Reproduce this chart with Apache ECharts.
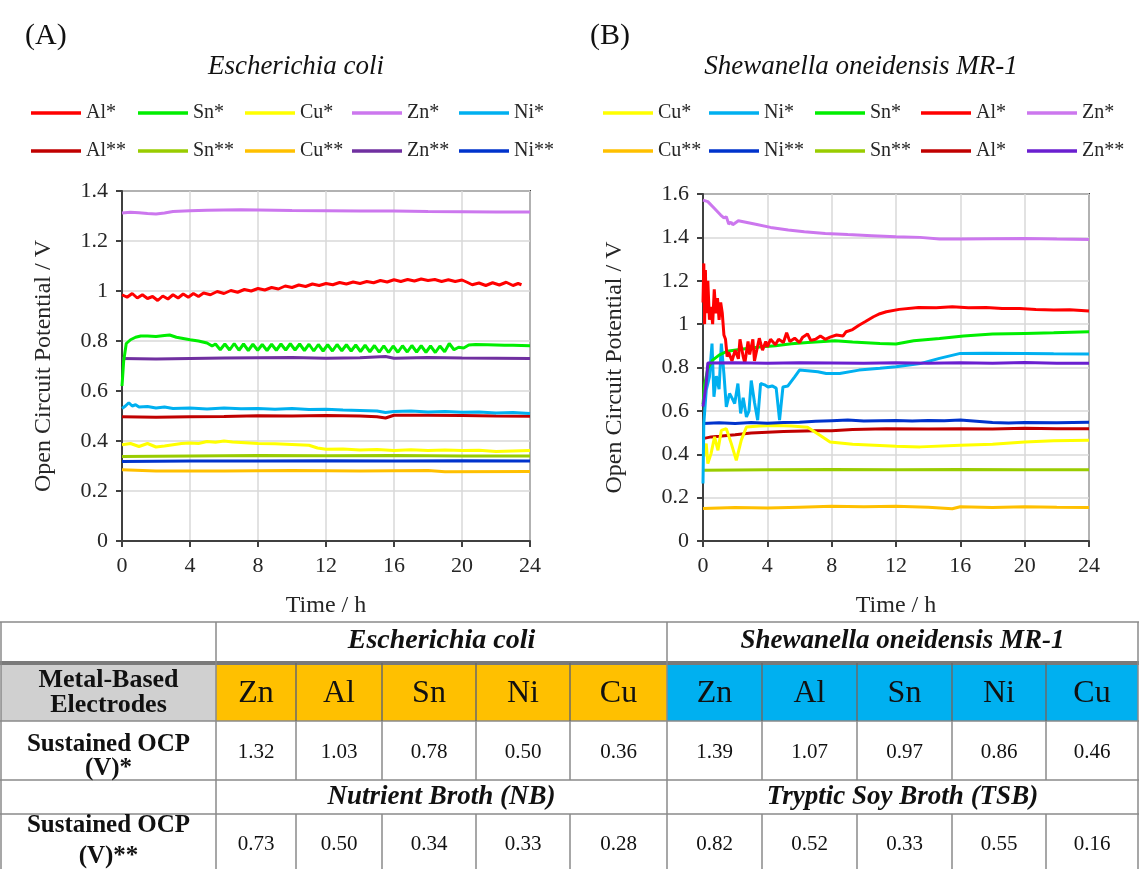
<!DOCTYPE html>
<html>
<head>
<meta charset="utf-8">
<script src="https://cdn.jsdelivr.net/npm/echarts@6/dist/echarts.min.js"></script>
</head>
<body style="margin:0;background:#fff">
<div id="chartmain" style="width:1139px;height:869px"></div>
<script type="text/javascript">
// ---- (A) Escherichia coli : [time h, OCP V] ----
var aAl1 = [[0,0.985],[0.3,0.975],[0.6,0.99],[0.9,0.972],[1.2,0.985],[1.5,0.97],[1.8,0.978],[2.1,0.962],[2.4,0.98],[2.7,0.968],[3,0.985],[3.3,0.972],[3.6,0.988],[3.9,0.975],[4.2,0.99],[4.5,0.978],[4.8,0.992],[5.2,0.985],[5.6,0.998],[6,0.99],[6.4,1.002],[6.8,0.995],[7.2,1.006],[7.6,1.0],[8,1.01],[8.4,1.004],[8.8,1.014],[9.2,1.008],[9.6,1.02],[10,1.014],[10.4,1.024],[10.8,1.018],[11.2,1.028],[11.6,1.022],[12,1.03],[12.4,1.025],[12.8,1.034],[13.2,1.028],[13.6,1.036],[14,1.03],[14.4,1.038],[14.8,1.033],[15.2,1.042],[15.6,1.036],[16,1.045],[16.4,1.038],[16.8,1.046],[17.2,1.04],[17.6,1.048],[18,1.042],[18.4,1.046],[18.8,1.038],[19.2,1.045],[19.6,1.038],[20,1.044],[20.3,1.035],[20.6,1.025],[21,1.032],[21.4,1.022],[21.8,1.033],[22.2,1.024],[22.6,1.035],[23,1.022],[23.3,1.03],[23.5,1.025]];
var aSn1 = [[0,0.62],[0.1,0.72],[0.25,0.79],[0.5,0.805],[0.8,0.815],[1.1,0.82],[1.5,0.82],[2,0.818],[2.5,0.822],[2.8,0.824],[3.2,0.815],[3.6,0.81],[4,0.805],[4.5,0.8],[5,0.792],[5.3,0.78],[5.5,0.788],[5.78,0.765],[6.05,0.788],[6.33,0.764],[6.6,0.79],[6.88,0.763],[7.15,0.788],[7.43,0.762],[7.7,0.787],[7.98,0.763],[8.25,0.786],[8.53,0.762],[8.8,0.787],[9.08,0.763],[9.35,0.788],[9.63,0.764],[9.9,0.789],[10.18,0.764],[10.45,0.788],[10.73,0.762],[11,0.787],[11.28,0.76],[11.55,0.786],[11.83,0.76],[12.1,0.785],[12.38,0.76],[12.65,0.786],[12.93,0.761],[13.2,0.785],[13.48,0.76],[13.75,0.784],[14.03,0.758],[14.3,0.783],[14.58,0.757],[14.85,0.782],[15.13,0.755],[15.4,0.781],[15.68,0.754],[15.95,0.78],[16.23,0.755],[16.5,0.781],[16.78,0.756],[17.05,0.782],[17.33,0.756],[17.6,0.781],[17.88,0.755],[18.15,0.78],[18.43,0.754],[18.7,0.78],[18.98,0.757],[19.25,0.79],[19.53,0.765],[19.8,0.775],[20.1,0.772],[20.4,0.784],[20.8,0.786],[21.5,0.785],[22,0.784],[22.5,0.783],[23,0.783],[23.5,0.782],[24,0.781]];
var aCu1 = [[0,0.385],[0.5,0.39],[1,0.378],[1.5,0.39],[2,0.376],[2.5,0.38],[3,0.385],[3.5,0.39],[4,0.392],[4.5,0.39],[5,0.398],[5.5,0.395],[6,0.4],[6.5,0.396],[7,0.394],[8,0.39],[9,0.389],[10,0.386],[11,0.383],[11.5,0.372],[12,0.367],[13,0.368],[14,0.364],[15,0.366],[16,0.362],[17,0.365],[18,0.362],[19,0.364],[20,0.362],[21,0.363],[22,0.358],[23,0.36],[24,0.362]];
var aZn1 = [[0,1.312],[0.5,1.315],[1,1.313],[1.5,1.31],[2,1.308],[2.5,1.312],[3,1.318],[4,1.321],[5,1.323],[6,1.324],[7,1.325],[8,1.324],[10,1.322],[12,1.321],[14,1.32],[16,1.32],[18,1.318],[20,1.317],[22,1.316],[24,1.316]];
var aNi1 = [[0,0.53],[0.2,0.54],[0.4,0.553],[0.6,0.54],[0.8,0.545],[1,0.536],[1.5,0.538],[2,0.532],[2.5,0.536],[3,0.53],[4,0.532],[5,0.528],[6,0.532],[7,0.529],[8,0.53],[9,0.527],[10,0.53],[11,0.526],[12,0.527],[13,0.524],[14,0.522],[15,0.52],[15.5,0.514],[16,0.518],[17,0.52],[18,0.516],[19,0.518],[20,0.515],[21,0.516],[22,0.512],[23,0.514],[24,0.51]];
var aAl2 = [[0,0.497],[2,0.495],[4,0.497],[6,0.498],[8,0.501],[10,0.5],[12,0.502],[14,0.5],[15,0.497],[15.5,0.492],[16,0.503],[18,0.503],[20,0.502],[22,0.5],[24,0.499]];
var aSn2 = [[0,0.338],[4,0.34],[8,0.342],[12,0.341],[16,0.342],[20,0.34],[24,0.34]];
var aCu2 = [[0,0.285],[2,0.28],[6,0.28],[10,0.282],[14,0.28],[18,0.282],[19,0.277],[24,0.278]];
var aZn2 = [[0,0.73],[2,0.728],[4,0.73],[6,0.732],[8,0.733],[10,0.734],[12,0.731],[14,0.733],[15.5,0.738],[16,0.731],[18,0.734],[20,0.732],[22,0.731],[24,0.73]];
var aNi2 = [[0,0.318],[4,0.32],[8,0.32],[12,0.321],[16,0.32],[20,0.321],[24,0.32]];

// ---- (B) Shewanella oneidensis MR-1 ----
var bCu1 = [[0.05,0.39],[0.2,0.449],[0.3,0.357],[0.5,0.403],[0.72,0.48],[0.93,0.418],[1.14,0.51],[1.45,0.518],[1.76,0.449],[2.07,0.372],[2.38,0.465],[2.7,0.526],[3.5,0.53],[4.5,0.532],[5.5,0.53],[6.5,0.525],[7.27,0.488],[7.9,0.457],[9.3,0.446],[12,0.437],[13.5,0.434],[16,0.442],[18,0.446],[20,0.457],[21.8,0.462],[24,0.465]];
var bNi1 = [[0,0.265],[0.05,0.54],[0.2,0.695],[0.4,0.757],[0.56,0.91],[0.68,0.665],[0.83,0.76],[1,0.7],[1.14,0.91],[1.3,0.772],[1.45,0.618],[1.65,0.68],[1.8,0.66],[1.97,0.634],[2.17,0.726],[2.34,0.588],[2.5,0.66],[2.7,0.572],[2.86,0.6],[3,0.74],[3.2,0.64],[3.4,0.557],[3.58,0.726],[3.83,0.72],[4.04,0.71],[4.3,0.715],[4.55,0.705],[4.76,0.557],[4.97,0.71],[5.28,0.715],[5.7,0.757],[6,0.788],[6.5,0.785],[7.14,0.78],[7.66,0.772],[8.5,0.772],[9.7,0.788],[11,0.796],[12,0.803],[13.5,0.818],[14.7,0.842],[16,0.865],[17.6,0.866],[20,0.865],[21.8,0.863],[24,0.862]];
var bSn1 = [[0,0.63],[0.1,0.72],[0.3,0.795],[0.6,0.834],[1,0.857],[1.5,0.875],[2.5,0.885],[3.5,0.895],[4.5,0.9],[5.5,0.91],[6.5,0.915],[7.5,0.92],[8.2,0.923],[9.3,0.918],[11,0.911],[12,0.908],[13.1,0.923],[14.7,0.934],[16.2,0.945],[18,0.954],[20,0.957],[21.8,0.96],[24,0.965]];
var bAl1 = [[0,1.1],[0.05,1.28],[0.1,1.0],[0.15,1.25],[0.2,1.05],[0.3,1.2],[0.4,1.02],[0.5,1.08],[0.6,1.0],[0.7,1.16],[0.8,1.05],[0.9,1.12],[1,1.02],[1.1,1.1],[1.2,1.05],[1.3,0.95],[1.4,0.93],[1.5,0.85],[1.6,0.87],[1.8,0.83],[2,0.88],[2.2,0.84],[2.3,0.93],[2.5,0.85],[2.6,0.82],[2.8,0.92],[2.9,0.86],[3.1,0.93],[3.2,0.83],[3.4,0.9],[3.5,0.935],[3.7,0.88],[3.9,0.92],[4,0.895],[4.2,0.93],[4.5,0.905],[4.7,0.93],[5,0.915],[5.2,0.96],[5.4,0.92],[5.7,0.935],[6,0.915],[6.2,0.94],[6.5,0.955],[6.7,0.925],[7,0.93],[7.3,0.945],[7.6,0.93],[7.9,0.94],[8.3,0.95],[8.7,0.945],[8.9,0.965],[9.3,0.975],[9.7,0.995],[10.1,1.012],[10.6,1.034],[11,1.048],[11.4,1.057],[12.2,1.068],[13.4,1.077],[14.5,1.076],[15.5,1.08],[16.5,1.076],[17.6,1.077],[18.6,1.072],[19.7,1.072],[20.7,1.068],[21.8,1.065],[22.8,1.066],[24,1.06]];
var bZn1 = [[0,1.572],[0.3,1.565],[0.7,1.534],[1.1,1.503],[1.3,1.49],[1.45,1.495],[1.6,1.462],[1.75,1.47],[1.85,1.458],[2.2,1.477],[3.2,1.462],[4.2,1.446],[5.3,1.434],[6.3,1.426],[7.6,1.418],[9,1.413],[10.5,1.408],[12,1.403],[13.5,1.4],[14.7,1.392],[16,1.392],[18,1.394],[20,1.395],[22,1.392],[24,1.39]];
var bCu2 = [[0,0.15],[2,0.155],[4,0.152],[6,0.156],[8,0.16],[10,0.158],[12,0.16],[14,0.156],[15.5,0.149],[16,0.158],[18,0.155],[20,0.158],[22,0.156],[24,0.155]];
var bNi2 = [[0,0.542],[1,0.545],[2,0.542],[3,0.546],[4,0.543],[5,0.546],[6,0.548],[7,0.552],[8,0.555],[9,0.558],[10,0.553],[11,0.555],[12,0.556],[13,0.553],[14,0.556],[15,0.555],[16,0.558],[17,0.552],[18,0.546],[19,0.544],[20,0.546],[22,0.545],[24,0.548]];
var bSn2 = [[0,0.326],[4,0.328],[8,0.33],[12,0.328],[16,0.33],[20,0.328],[24,0.328]];
var bAl2 = [[0,0.472],[0.5,0.48],[1,0.483],[2,0.49],[3,0.498],[4,0.502],[5,0.505],[7,0.508],[8,0.508],[9.3,0.514],[11.4,0.518],[14,0.517],[16,0.518],[18,0.517],[20,0.52],[22,0.518],[24,0.518]];
var bZn2 = [[0,0.62],[0.2,0.726],[0.3,0.821],[2,0.822],[4,0.82],[6,0.822],[8,0.821],[10,0.82],[12,0.822],[14,0.82],[16,0.822],[18,0.82],[20,0.823],[22,0.82],[24,0.82]];

// ---- table ----
var metals = ['Zn', 'Al', 'Sn', 'Ni', 'Cu'];
var ecoliOcp1 = [1.32, 1.03, 0.78, 0.50, 0.36];
var ecoliOcp2 = [0.73, 0.50, 0.34, 0.33, 0.28];
var shewOcp1 = [1.39, 1.07, 0.97, 0.86, 0.46];
var shewOcp2 = [0.82, 0.52, 0.33, 0.55, 0.16];

var FONT = 'Liberation Serif';
var TXT = '#262626';

// series key -> legend text (the second "Al*" in panel B is as printed)
var labelOf = {
    'A Al*': 'Al*', 'A Sn*': 'Sn*', 'A Cu*': 'Cu*', 'A Zn*': 'Zn*', 'A Ni*': 'Ni*',
    'A Al**': 'Al**', 'A Sn**': 'Sn**', 'A Cu**': 'Cu**', 'A Zn**': 'Zn**', 'A Ni**': 'Ni**',
    'B Cu*': 'Cu*', 'B Ni*': 'Ni*', 'B Sn*': 'Sn*', 'B Al*': 'Al*', 'B Zn*': 'Zn*',
    'B Cu**': 'Cu**', 'B Ni**': 'Ni**', 'B Sn**': 'Sn**', 'B Al**': 'Al*', 'B Zn**': 'Zn**'
};
var legendRowsA = [['A Al*', 'A Sn*', 'A Cu*', 'A Zn*', 'A Ni*'], ['A Al**', 'A Sn**', 'A Cu**', 'A Zn**', 'A Ni**']];
var legendRowsB = [['B Cu*', 'B Ni*', 'B Sn*', 'B Al*', 'B Zn*'], ['B Cu**', 'B Ni**', 'B Sn**', 'B Al**', 'B Zn**']];

function line(name, data, color, idx) {
    return {
        name: name, type: 'line', data: data, xAxisIndex: idx, yAxisIndex: idx,
        symbol: 'none', color: color,
        lineStyle: { width: 3, color: color },
        animation: false
    };
}

function xAx(idx) {
    return {
        gridIndex: idx, type: 'value', min: 0, max: 24, interval: 4,
        name: 'Time / h', nameLocation: 'middle', nameGap: 53,
        nameTextStyle: { fontFamily: FONT, fontSize: 24, color: TXT },
        axisLine: { lineStyle: { color: '#404040', width: 2 } },
        axisTick: { show: true, length: 6, lineStyle: { color: '#404040', width: 2 } },
        axisLabel: { fontFamily: FONT, fontSize: 22, color: TXT, margin: 14 },
        splitLine: { show: true, lineStyle: { color: '#d9d9d9', width: 1.5 } }
    };
}

function yAx(idx, max, gap) {
    return {
        gridIndex: idx, type: 'value', min: 0, max: max, interval: 0.2,
        name: 'Open Circuit Potential / V', nameLocation: 'middle', nameGap: gap,
        nameTextStyle: { fontFamily: FONT, fontSize: 24, color: TXT },
        axisLine: { show: true, lineStyle: { color: '#404040', width: 2 } },
        axisTick: { show: true, length: 6, lineStyle: { color: '#404040', width: 2 } },
        axisLabel: { fontFamily: FONT, fontSize: 22, color: TXT, margin: 14 },
        splitLine: { show: true, lineStyle: { color: '#d9d9d9', width: 1.5 } }
    };
}

// one legend box per entry so the entries sit on an even pitch like the figure
var legends = [];
function legendRows(rows, left, stride, tops) {
    rows.forEach(function (names, r) {
        names.forEach(function (n, i) {
            legends.push({
                left: left + i * stride, top: tops[r], data: [n], padding: 0,
                icon: 'rect', itemWidth: 50, itemHeight: 3.5,
                formatter: function (s) { return labelOf[s]; },
                textStyle: { fontFamily: FONT, fontSize: 20, color: TXT },
                selectedMode: false
            });
        });
    });
}
legendRows(legendRowsA, 31, 107, [103, 141]);
legendRows(legendRowsB, 603, 106, [103, 141]);

// table drawn with graphic elements
var colX = [1, 216, 296, 382, 476, 570, 667, 762, 857, 952, 1046, 1138];
var rowY = [622, 661, 721, 780, 814, 869];
var g = [];
function rect(x, y, w, h, fill) {
    g.push({ type: 'rect', shape: { x: x, y: y, width: w, height: h }, style: { fill: fill }, silent: true });
}
function seg(x1, y1, x2, y2, c, w) {
    g.push({ type: 'line', shape: { x1: x1, y1: y1, x2: x2, y2: y2 }, style: { stroke: c, lineWidth: w }, silent: true });
}
function txt(x, y, s, size, weight, style) {
    g.push({
        type: 'text', x: x, y: y, silent: true,
        style: { text: s, fontFamily: FONT, fontSize: size, fontWeight: weight || 'normal', fontStyle: style || 'normal', fill: '#111', align: 'center', verticalAlign: 'middle' }
    });
}
rect(colX[0], 663, colX[1] - colX[0], rowY[2] - 663, '#d0d0d0');
for (var i = 0; i < 10; i++) {
    rect(colX[i + 1], 663, colX[i + 2] - colX[i + 1], rowY[2] - 663, i < 5 ? '#ffc000' : '#00b0f0');
}
var BC = '#8a8a8a';
[rowY[0], rowY[2], rowY[3], rowY[4]].forEach(function (y) { seg(0, y, 1139, y, BC, 1.5); });
seg(0, 663, 1139, 663, '#7a7a7a', 4);
[colX[0], colX[1], colX[6], colX[11]].forEach(function (x) { seg(x, rowY[0], x, 869, BC, 1.5); });
for (var c = 2; c <= 10; c++) {
    if (c === 6) continue;
    seg(colX[c], 663, colX[c], rowY[2], '#6a6a6a', 1.5);
    seg(colX[c], rowY[2], colX[c], rowY[3], BC, 1.5);
    seg(colX[c], rowY[4], colX[c], 869, BC, 1.5);
}
var mid = function (c) { return (colX[c] + colX[c + 1]) / 2; };
txt((colX[1] + colX[6]) / 2, 641, 'Escherichia coli', 28, 'bold', 'italic');
txt((colX[6] + colX[11]) / 2, 641, 'Shewanella oneidensis MR-1', 27, 'bold', 'italic');
txt(mid(0), 680, 'Metal-Based', 26, 'bold');
txt(mid(0), 705, 'Electrodes', 26, 'bold');
txt(mid(0), 745, 'Sustained OCP', 25, 'bold');
txt(mid(0), 769, '(V)*', 25, 'bold');
txt((colX[1] + colX[6]) / 2, 797, 'Nutrient Broth (NB)', 27, 'bold', 'italic');
txt((colX[6] + colX[11]) / 2, 797, 'Tryptic Soy Broth (TSB)', 27, 'bold', 'italic');
txt(mid(0), 826, 'Sustained OCP', 25, 'bold');
txt(mid(0), 857, '(V)**', 25, 'bold');
for (var k = 0; k < 5; k++) {
    txt(mid(k + 1), 694, metals[k], 32);
    txt(mid(k + 6), 694, metals[k], 32);
    txt(mid(k + 1), 752, ecoliOcp1[k].toFixed(2), 21);
    txt(mid(k + 6), 752, shewOcp1[k].toFixed(2), 21);
    txt(mid(k + 1), 844, ecoliOcp2[k].toFixed(2), 21);
    txt(mid(k + 6), 844, shewOcp2[k].toFixed(2), 21);
}

var option = {
    backgroundColor: '#fff',
    animation: false,
    title: [
        { text: '(A)', left: 20, top: 16, textStyle: { fontFamily: FONT, fontSize: 30, fontWeight: 'normal', color: '#111' } },
        { text: 'Escherichia coli', left: 291, top: 48, textAlign: 'center', textStyle: { fontFamily: FONT, fontSize: 27, fontStyle: 'italic', fontWeight: 'normal', color: '#111' } },
        { text: '(B)', left: 585, top: 16, textStyle: { fontFamily: FONT, fontSize: 30, fontWeight: 'normal', color: '#111' } },
        { text: 'Shewanella oneidensis MR-1', left: 856, top: 48, textAlign: 'center', textStyle: { fontFamily: FONT, fontSize: 27, fontStyle: 'italic', fontWeight: 'normal', color: '#111' } }
    ],
    legend: legends,
    grid: [
        { left: 122, top: 191, width: 408, height: 350, show: true, borderColor: '#404040', borderWidth: 2 },
        { left: 703, top: 194, width: 386, height: 347, show: true, borderColor: '#404040', borderWidth: 2 }
    ],
    xAxis: [xAx(0), xAx(1)],
    yAxis: [yAx(0, 1.4, 66), yAx(1, 1.6, 76)],
    series: [
        line('A Cu**', aCu2, '#ffc000', 0),
        line('A Ni**', aNi2, '#0033cc', 0),
        line('A Sn**', aSn2, '#99cc00', 0),
        line('A Cu*', aCu1, '#ffff00', 0),
        line('A Al**', aAl2, '#c00000', 0),
        line('A Ni*', aNi1, '#00b0f0', 0),
        line('A Zn**', aZn2, '#7030a0', 0),
        line('A Sn*', aSn1, '#00ee00', 0),
        line('A Al*', aAl1, '#ff0000', 0),
        line('A Zn*', aZn1, '#cc77ee', 0),
        line('B Cu**', bCu2, '#ffc000', 1),
        line('B Sn**', bSn2, '#99cc00', 1),
        line('B Al**', bAl2, '#c00000', 1),
        line('B Cu*', bCu1, '#ffff00', 1),
        line('B Ni**', bNi2, '#0033cc', 1),
        line('B Ni*', bNi1, '#00b0f0', 1),
        line('B Sn*', bSn1, '#00ee00', 1),
        line('B Al*', bAl1, '#ff0000', 1),
        line('B Zn**', bZn2, '#6a1fd0', 1),
        line('B Zn*', bZn1, '#cc77ee', 1)
    ],
    graphic: g
};

var myChart = echarts.init(document.getElementById('chartmain'));
myChart.setOption(option);
</script>
</body>
</html>
